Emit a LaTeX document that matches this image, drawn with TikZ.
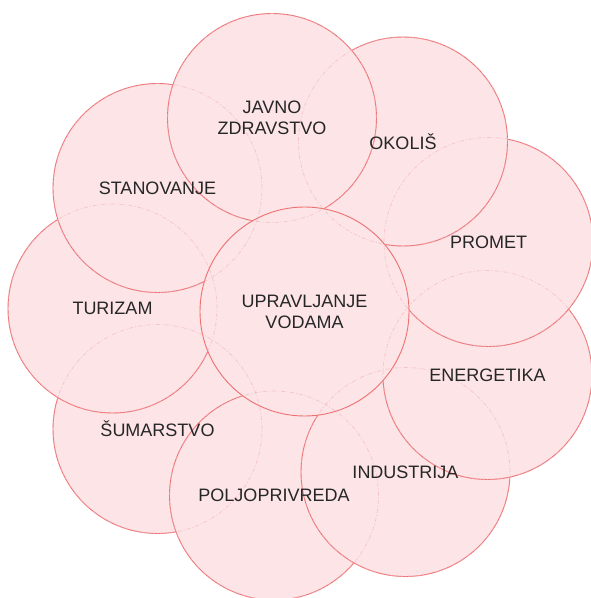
\documentclass[tikz,border=0pt]{standalone}
\usepackage{fontspec}
\setmainfont{Liberation Sans}
\definecolor{bubfill}{HTML}{FCE4E7}
\definecolor{bubline}{HTML}{EE7070}
\definecolor{bubhidden}{HTML}{F0B0BA}
\definecolor{bubtext}{HTML}{262626}
\tikzset{
  bub/.style={circle, minimum size=209pt, inner sep=0pt, fill=bubfill, draw=bubline, line width=0.9pt},
  bublabel/.style={text=bubtext, align=center, inner sep=0pt, font=\fontsize{18}{21}\selectfont},
  hiddenline/.style={draw=bubhidden, line width=0.7pt, dash pattern=on 4pt off 2pt on 1pt off 2pt, opacity=0.6}
}
\begin{document}
\begin{tikzpicture}[x=1pt,y=-1pt]
\useasboundingbox (0,0) rectangle (591,598);
% circles, bottom to top
\node[bub] (sum) at (157.5,429) {};
\node[bub] (polj) at (274,495.5) {};
\node[bub] (ind) at (405.5,472) {};
\node[bub] (ene) at (487.5,375) {};
\node[bub] (prom) at (488.5,242) {};
\node[bub] (okol) at (403,141.5) {};
\node[bub] (tur) at (112.5,308.5) {};
\node[bub] (stan) at (157.5,188) {};
\node[bub] (javno) at (272,118) {};
\node[bub] (upr) at (304.5,311.5) {};
% faint outlines of hidden arcs
\foreach \c in {sum,polj,ind,ene,prom,okol,tur,stan,javno}
  \draw[hiddenline] (\c.center) circle[radius=104.5pt];
% labels
\node[bublabel] (tsum) at (sum.center) {ŠUMARSTVO};
\node[bublabel] (tpolj) at (polj.center) {POLJOPRIVREDA};
\node[bublabel] (tind) at (ind.center) {INDUSTRIJA};
\node[bublabel] (tene) at (ene.center) {ENERGETIKA};
\node[bublabel] (tprom) at (prom.center) {PROMET};
\node[bublabel] (tokol) at (okol.center) {OKOLIŠ};
\node[bublabel] (ttur) at (tur.center) {TURIZAM};
\node[bublabel] (tstan) at (stan.center) {STANOVANJE};
\node[bublabel] (tjavno) at (javno.center) {JAVNO\\ZDRAVSTVO};
\node[bublabel] (tupr) at (upr.center) {UPRAVLJANJE\\VODAMA};
\end{tikzpicture}
\end{document}
